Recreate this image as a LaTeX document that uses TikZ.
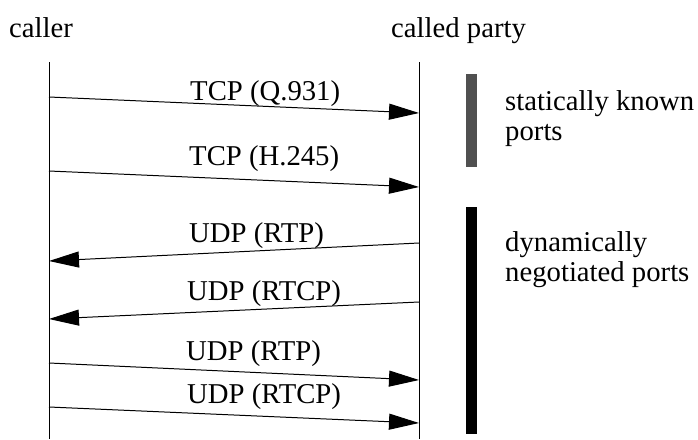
\documentclass[tikz,border=0pt]{standalone}
\usepackage{fontspec}
\setmainfont{Liberation Serif}
\usetikzlibrary{arrows.meta}

\begin{document}
\begin{tikzpicture}[x=0.03cm,y=-0.03cm,
    txt/.style={anchor=base west,inner sep=0pt,align=left,font=\fontsize{24.5}{25.6}\selectfont},
    life/.style={draw=black,line width=0.85pt},
    msg/.style={draw=black,line width=0.85pt,-{Triangle[length=0.9cm,width=0.48cm]}},
    portbar/.style={rectangle,inner sep=0pt,minimum width=0.33cm,anchor=north}]

      \useasboundingbox (0,0) rectangle (698,439);

      % the two parties
      \node[txt] (caller) at (9,37){caller};
      \node[txt] (called) at (391,37){called party};
      \coordinate (callertop) at (49,62);
      \coordinate (callerbot) at (49,439);
      \coordinate (calledtop) at (419,62);
      \coordinate (calledbot) at (419,439);
      \draw[life] (callertop) -- (callerbot);
      \draw[life] (calledtop) -- (calledbot);

      % ends of the messages
      \coordinate (a1) at (49,97);   \coordinate (b1) at (419,113);
      \coordinate (a2) at (49,171);  \coordinate (b2) at (419,187);
      \coordinate (b3) at (419,243); \coordinate (a3) at (49,261);
      \coordinate (b4) at (419,302); \coordinate (a4) at (49,319);
      \coordinate (a5) at (49,363);  \coordinate (b5) at (419,380);
      \coordinate (a6) at (49,407);  \coordinate (b6) at (419,423);

      \node[txt] (q931) at (190,100){TCP (Q.931)};
      \node[txt] (h245) at (189,165){TCP (H.245)};
      \node[txt] (rtpin) at (189,242){UDP (RTP)};
      \node[txt] (rtcpin) at (187,300){UDP (RTCP)};
      \node[txt] (rtpout) at (186,360){UDP (RTP)};
      \node[txt] (rtcpout) at (187,403){UDP (RTCP)};

      \draw[msg] (a1) -- (b1);
      \draw[msg] (a2) -- (b2);
      \draw[msg] (b3) -- (a3);
      \draw[msg] (b4) -- (a4);
      \draw[msg] (a5) -- (b5);
      \draw[msg] (a6) -- (b6);

      % port kinds
      \node[portbar,fill={rgb,255:red,80;green,80;blue,80},minimum height=2.79cm] (static) at (471.5,74){};
      \node[portbar,fill=black,minimum height=6.81cm] (dynamic) at (471.5,207){};
      \node[txt] (statictext) at (505,140){statically known\\ports};
      \node[txt] (dynamictext) at (505,281){dynamically\\negotiated ports};

    \end{tikzpicture}
\end{document}
